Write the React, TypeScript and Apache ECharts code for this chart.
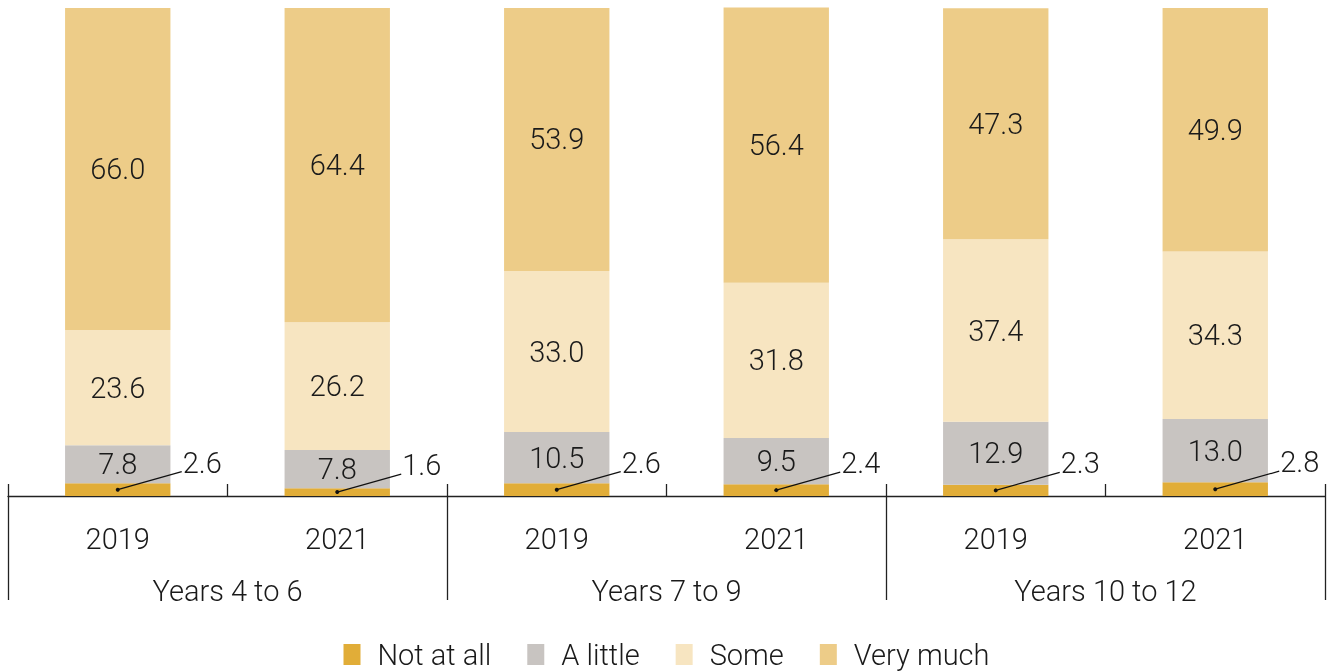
import React, { useEffect, useRef } from "react";
import * as echarts from "echarts";

const categories = ["2019", "2021", "2019", "2021", "2019", "2021"];
const groups = ["Years 4 to 6", "Years 7 to 9", "Years 10 to 12"];
const notAtAll = [2.6, 1.6, 2.6, 2.4, 2.3, 2.8];
const aLittle = [7.8, 7.8, 10.5, 9.5, 12.9, 13.0];
const some = [23.6, 26.2, 33.0, 31.8, 37.4, 34.3];
const veryMuch = [66.0, 64.4, 53.9, 56.4, 47.3, 49.9];

const seriesNames = ["Not at all", "A little", "Some", "Very much"];
const colors = ["#E1AD38", "#C8C4C1", "#F7E5C1", "#EDCC88"];

const FONT = "Roboto";
const TEXT = "#1a1a1a";
const FS = 29;

export default function App() {
  const ref = useRef<HTMLDivElement>(null);
  useEffect(() => {
    if (!ref.current) return;
    const chart = echarts.init(ref.current, undefined, { renderer: "svg" });
    const values = [notAtAll, aLittle, some, veryMuch];
    const barSeries = values.map((d, i) => ({
      name: seriesNames[i],
      type: "bar",
      stack: "total",
      barWidth: "48%",
      data: d,
      itemStyle: { color: colors[i] },
      label: {
        show: i > 0,
        position: "inside",
        color: TEXT,
        fontFamily: FONT,
        fontWeight: 300,
        fontSize: FS,
        formatter: (p: any) => Number(p.value).toFixed(1),
      },
      z: 2,
    }));
    const option = {
      animation: false,
      textStyle: { fontFamily: FONT },
      grid: { left: 8, right: 8, top: 3, bottom: 176, containLabel: false },
      legend: {
        data: seriesNames,
        top: 640,
        padding: 0,
        left: "center",
        itemWidth: 17,
        itemHeight: 21,
        itemGap: 36,
        icon: "rect",
        textStyle: {
          fontFamily: FONT,
          fontWeight: 300,
          fontSize: FS,
          lineHeight: 29,
          color: TEXT,
          padding: [0, 0, 0, 12],
        },
      },
      xAxis: [
        {
          type: "category",
          data: categories,
          position: "bottom",
          offset: 0,
          axisLine: { show: true, lineStyle: { color: "#222", width: 1.3 } },
          axisTick: { show: true, inside: true, length: 12, interval: 0, lineStyle: { color: "#222", width: 1.3 } },
          axisLabel: { interval: 0, margin: 28, color: TEXT, fontFamily: FONT, fontWeight: 300, fontSize: FS },
        },
        {
          type: "category",
          data: groups,
          position: "bottom",
          offset: 0,
          axisLine: { show: false },
          axisTick: { show: true, inside: false, length: 104, interval: 0, lineStyle: { color: "#222", width: 1.3 } },
          axisLabel: { interval: 0, margin: 80, color: TEXT, fontFamily: FONT, fontWeight: 300, fontSize: FS },
        },
      ],
      yAxis: { type: "value", min: 0, max: 101, show: false },
      series: [
        ...barSeries,
        {
          type: "custom",
          name: "notAtAllLabels",
          xAxisIndex: 0,
          yAxisIndex: 0,
          z: 5,
          data: notAtAll.map((v, i) => [i, v]),
          encode: { x: 0, y: 1 },
          renderItem: (params: any, api: any) => {
            const p = api.coord([api.value(0), api.value(1) / 2]);
            return {
              type: "group",
              children: [
                { type: "circle", shape: { cx: p[0], cy: p[1], r: 2 }, style: { fill: "#111" } },
                {
                  type: "line",
                  shape: { x1: p[0], y1: p[1], x2: p[0] + 64, y2: p[1] - 18 },
                  style: { stroke: "#111", lineWidth: 1.2 },
                },
                {
                  type: "text",
                  x: p[0] + 65,
                  y: p[1] - 27,
                  style: {
                    text: Number(api.value(1)).toFixed(1),
                    fill: TEXT,
                    font: `300 ${FS}px ${FONT}`,
                    verticalAlign: "middle",
                    align: "left",
                  },
                },
              ],
            };
          },
        },
      ],
    };
    chart.setOption(option as any);
    return () => chart.dispose();
  }, []);
  return <div ref={ref} style={{ position: "fixed", left: 0, top: 0, width: 1333, height: 672 }} />;
}
